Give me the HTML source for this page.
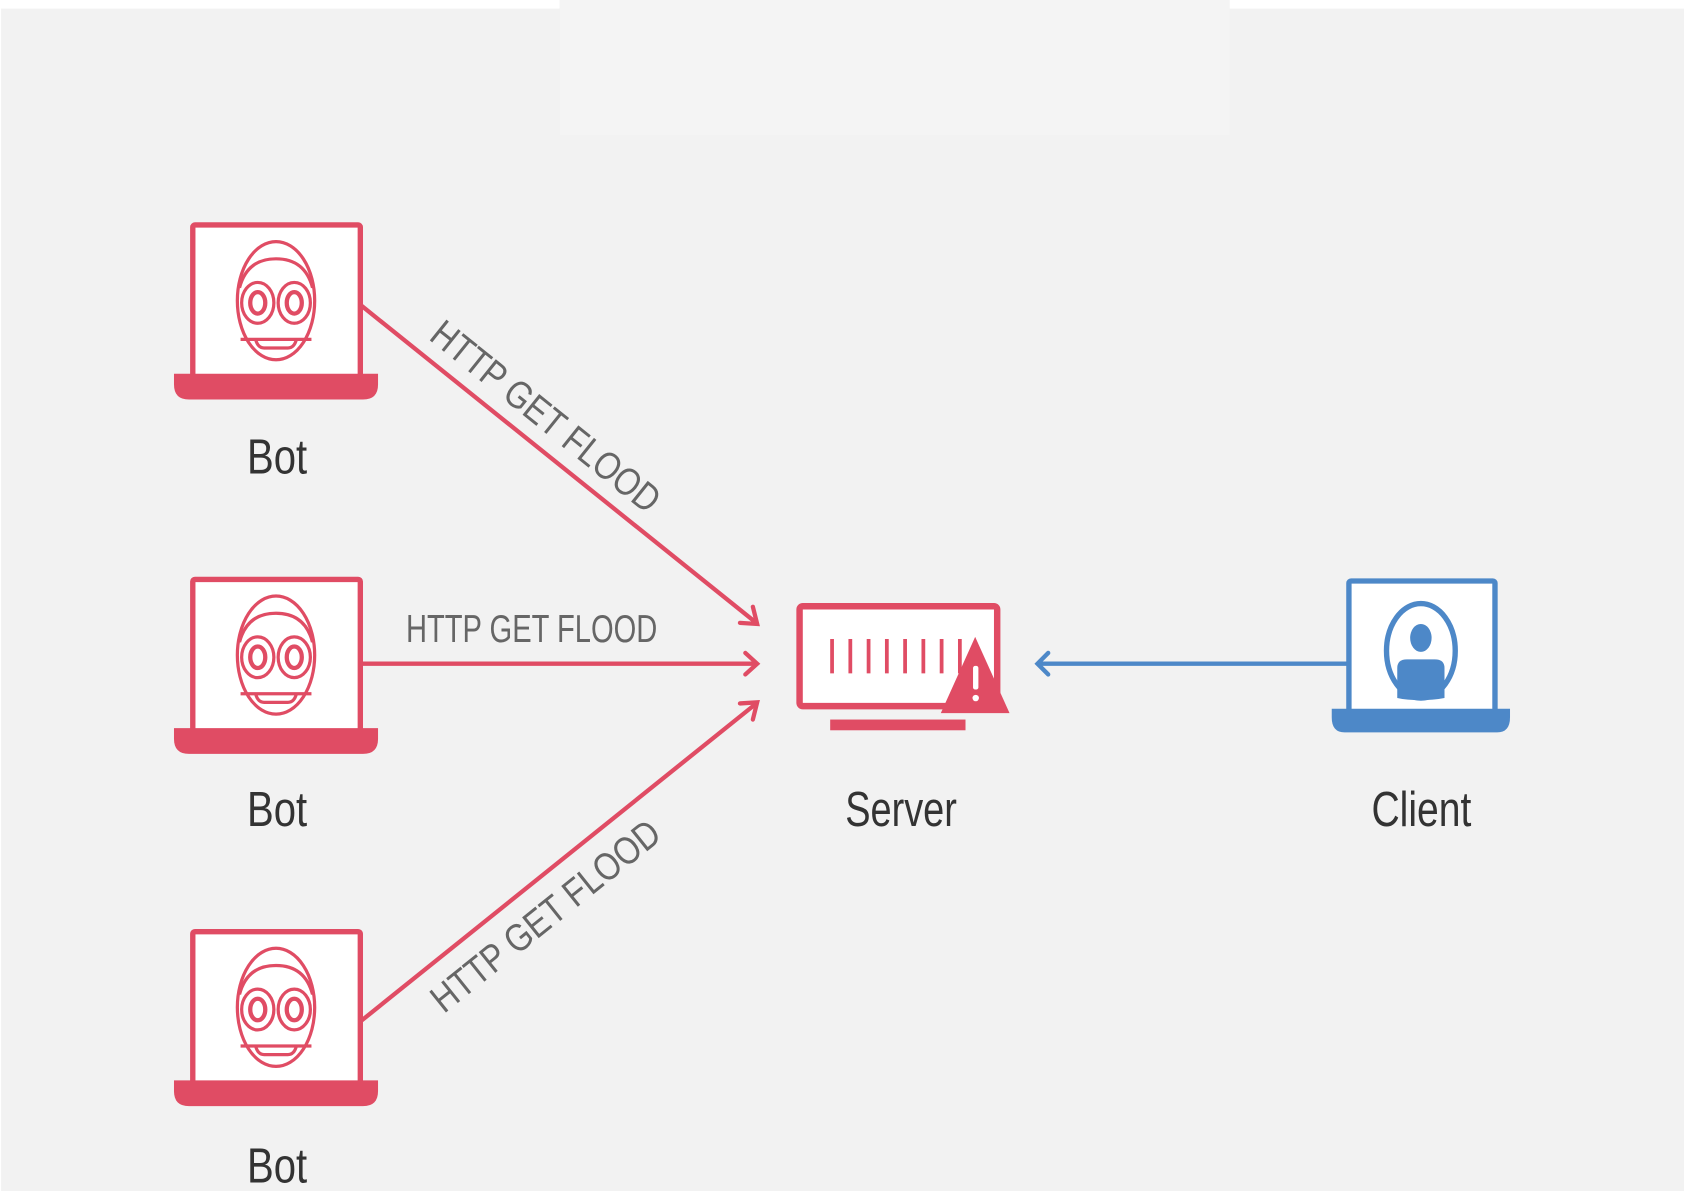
<!DOCTYPE html>
<html><head><meta charset="utf-8"><style>
html,body{margin:0;padding:0;background:#fff}
svg{display:block}
text{font-family:"Liberation Sans",sans-serif}
</style></head><body>
<svg width="1684" height="1191" viewBox="0 0 1568 1109" preserveAspectRatio="none" xmlns="http://www.w3.org/2000/svg">
<defs>
<g id="bot">
  <rect x="1.5" y="1.5" width="156" height="142" rx="2" fill="#fff" stroke="#e04c64" stroke-width="5"/>
  <path d="M-16 140 H174 V150 Q174 164 160 164 H-2 Q-16 164 -16 150 Z" fill="#e04c64"/>
  <g fill="none" stroke="#e04c64" stroke-width="3">
    <ellipse cx="79" cy="72" rx="36" ry="55"/>
    <path d="M45 60 Q52 33 79 33 Q106 33 113 60"/>
    <ellipse cx="62" cy="74" rx="15" ry="19"/>
    <ellipse cx="62" cy="74" rx="7" ry="10" stroke-width="4"/>
    <ellipse cx="96" cy="74" rx="15" ry="19"/>
    <ellipse cx="96" cy="74" rx="7" ry="10" stroke-width="4"/>
    <path d="M46 108 H112"/>
    <path d="M60 108 Q62 116 68 116 H90 Q96 116 98 108"/>
  </g>
</g>
</defs>
<rect x="0" y="0" width="1568" height="1109" fill="#fff"/>
<rect x="1" y="8" width="1567" height="1101" fill="#f2f2f2"/>
<rect x="521" y="0" width="624" height="126" fill="#f4f4f4"/>

<use href="#bot" x="178" y="208"/>
<use href="#bot" x="178" y="538"/>
<use href="#bot" x="178" y="866"/>

<g fill="#333" font-size="46">
<text x="230" y="441" textLength="56" lengthAdjust="spacingAndGlyphs">Bot</text>
<text x="230" y="769" textLength="56" lengthAdjust="spacingAndGlyphs">Bot</text>
<text x="230" y="1101" textLength="56" lengthAdjust="spacingAndGlyphs">Bot</text>
<text x="787" y="769" textLength="104" lengthAdjust="spacingAndGlyphs">Server</text>
<text x="1277" y="769" textLength="93" lengthAdjust="spacingAndGlyphs">Client</text>
</g>

<g stroke="#e04c64" stroke-width="4" fill="none" stroke-linecap="round">
  <line x1="337" y1="285" x2="703" y2="579"/>
  <path d="M689 580 L705 581 L701 565"/>
  <line x1="337" y1="618" x2="704" y2="618"/>
  <path d="M694 608 L705 618 L694 628"/>
  <line x1="337" y1="950" x2="703" y2="656"/>
  <path d="M689 655 L705 654 L701 670"/>
</g>
<g fill="#666" font-size="36">
  <text x="378" y="598" textLength="234" lengthAdjust="spacingAndGlyphs">HTTP GET FLOOD</text>
  <text transform="translate(508,388) rotate(38.7)" x="0" y="12" text-anchor="middle" textLength="262" lengthAdjust="spacingAndGlyphs">HTTP GET FLOOD</text>
  <text transform="translate(508,853) rotate(-38.7)" x="0" y="12" text-anchor="middle" textLength="262" lengthAdjust="spacingAndGlyphs">HTTP GET FLOOD</text>
</g>

<rect x="744.5" y="564.5" width="184" height="93" rx="3" fill="#fff" stroke="#e04c64" stroke-width="6"/>
<g fill="#e04c64">
  <rect x="773" y="595" width="3.5" height="32"/><rect x="790" y="595" width="3.5" height="32"/>
  <rect x="807" y="595" width="3.5" height="32"/><rect x="824" y="595" width="3.5" height="32"/>
  <rect x="841" y="595" width="3.5" height="32"/><rect x="858" y="595" width="3.5" height="32"/>
  <rect x="875" y="595" width="3.5" height="32"/><rect x="892" y="595" width="3.5" height="32"/>
  <rect x="773" y="670" width="126" height="10"/>
  <path d="M908 593 L940 664 L876 664 Z"/>
</g>
<rect x="906" y="620" width="5" height="22" rx="2" fill="#fff"/>
<circle cx="908.5" cy="650" r="3" fill="#fff"/>

<line x1="1256" y1="618" x2="967" y2="618" stroke="#4d88c8" stroke-width="4"/>
<path d="M976 608 L966 618 L976 628" fill="none" stroke="#4d88c8" stroke-width="4" stroke-linecap="round"/>
<rect x="1256" y="541" width="136" height="122" rx="2" fill="#fff" stroke="#4d88c8" stroke-width="5"/>
<path d="M1240 660 H1406 V668 Q1406 682 1394 682 H1252 Q1240 682 1240 668 Z" fill="#4d88c8"/>
<ellipse cx="1323" cy="606" rx="32" ry="44" fill="none" stroke="#4d88c8" stroke-width="5"/>
<ellipse cx="1323" cy="594" rx="10" ry="13" fill="#4d88c8"/>
<path d="M1301 650 V622 Q1301 614 1310 614 H1336 Q1345 614 1345 622 V650 Q1334 652 1323 652 Q1310 652 1301 650 Z" fill="#4d88c8"/>
</svg>
</body></html>
